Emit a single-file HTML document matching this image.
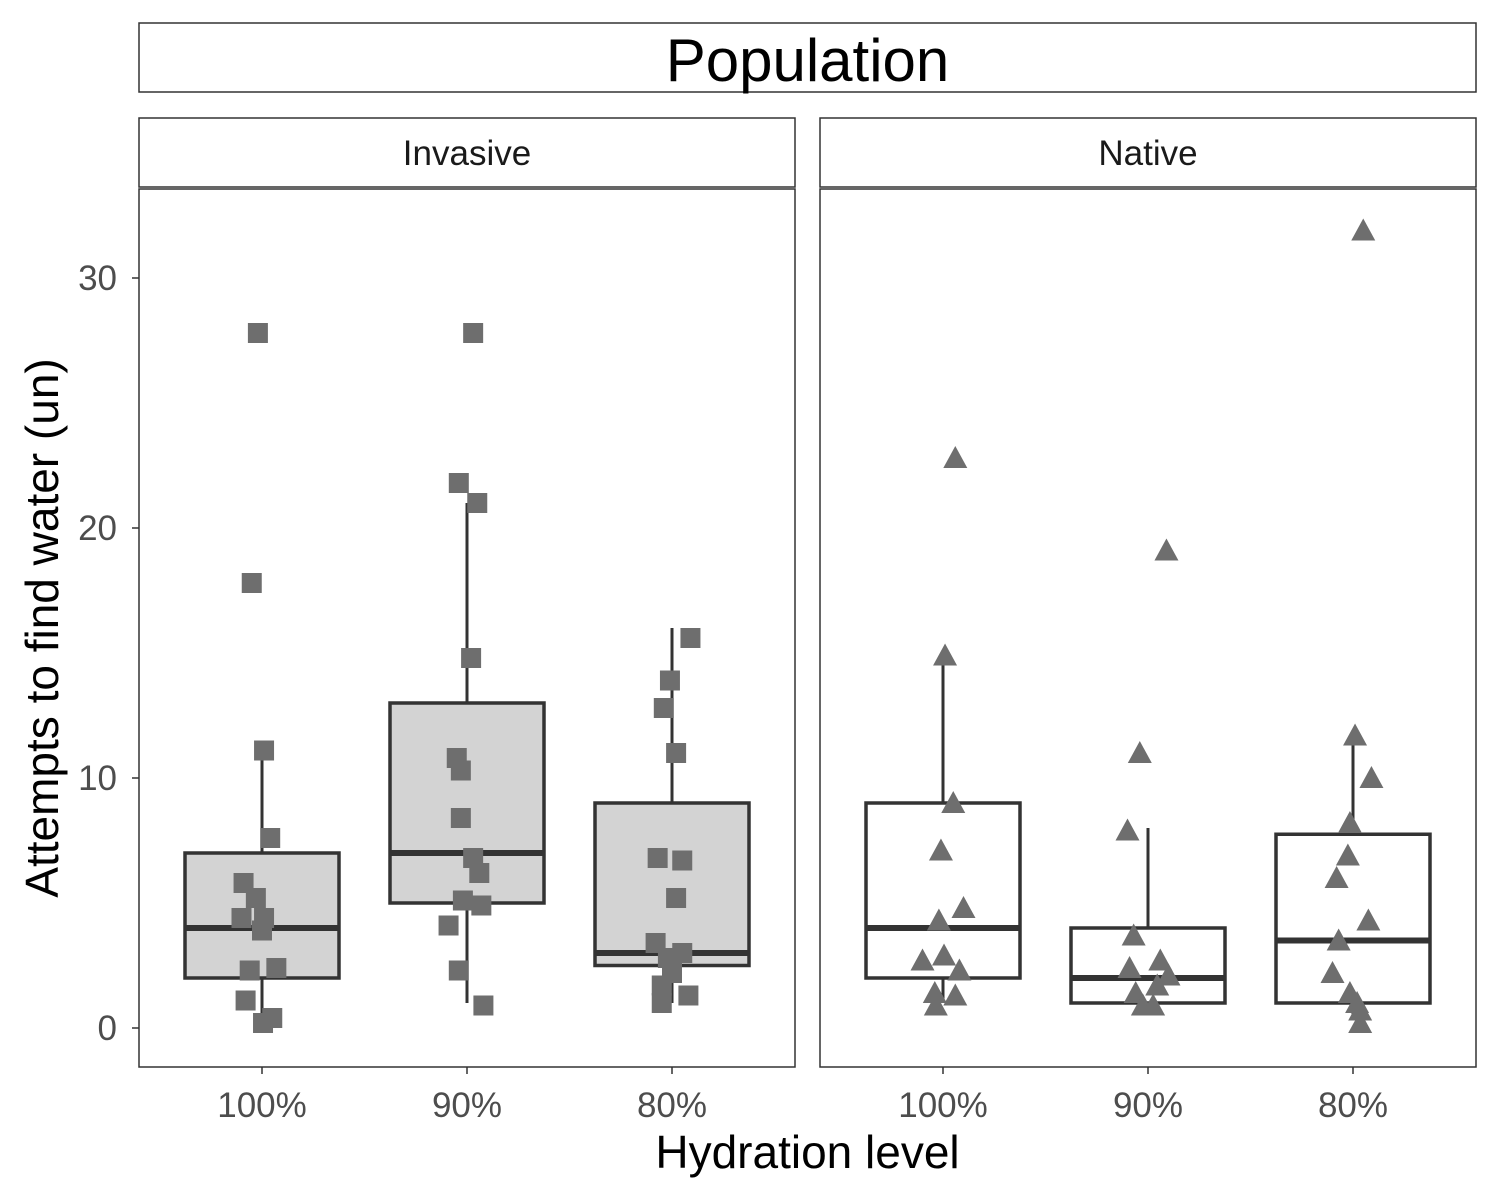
<!DOCTYPE html>
<html><head><meta charset="utf-8"><style>
body{margin:0;background:#fff}
svg{display:block;font-family:"Liberation Sans",sans-serif}
</style></head><body>
<svg id="c" width="1500" height="1200" viewBox="0 0 1500 1200"></svg>
<script>
const panels=["Invasive","Native"];
const categories=["100%","90%","80%"];
const yTicks=[0,10,20,30];
// box stats per panel: [lower, q1, median, q3, upper]
const boxInvasive=[[0.3,2,4,7,11],[1,5,7,13,21],[1,2.5,3,9,16]];
const boxNative=[[1,2,4,9,15],[1,1,2,4,8],[0.3,1,3.5,7.75,11.7]];
const ptsInv100=[27.8,17.8,11.1,7.6,5.8,5.2,4.4,4.4,3.9,2.3,2.4,1.1,0.2,0.4];
const jitInv100=[-0.02,-0.05,0.01,0.04,-0.09,-0.03,-0.1,0.01,0,-0.06,0.07,-0.08,0.005,0.05];
const ptsInv90=[27.8,21.8,21,14.8,10.8,10.3,8.4,6.8,6.2,5.1,4.9,4.1,2.3,0.9];
const jitInv90=[0.03,-0.04,0.05,0.02,-0.05,-0.03,-0.03,0.03,0.06,-0.02,0.07,-0.09,-0.04,0.08];
const ptsInv80=[15.6,13.9,12.8,11,6.8,6.7,5.2,3.4,3,2.8,2.2,1.7,1.3,1.0];
const jitInv80=[0.09,-0.01,-0.04,0.02,-0.07,0.05,0.02,-0.08,0.05,-0.02,0,-0.05,0.08,-0.05];
const ptsNat100=[22.8,14.9,9,7.1,4.8,4.3,2.9,2.7,2.3,1.4,1.3,0.9];
const jitNat100=[0.06,0.01,0.05,-0.01,0.1,-0.02,0.005,-0.1,0.08,-0.04,0.06,-0.035];
const ptsNat90=[19.1,11,7.9,3.7,2.4,2.7,2.1,1.7,1.4,0.9,0.9];
const jitNat90=[0.09,-0.04,-0.1,-0.07,-0.09,0.06,0.1,0.045,-0.06,-0.025,0.025];
const ptsNat80=[31.9,11.7,10,8.2,6.9,6,4.3,3.5,2.2,1.4,1,0.7,0.2];
const jitNat80=[0.05,0.01,0.09,-0.015,-0.025,-0.08,0.075,-0.07,-0.1,-0.015,0.02,0.035,0.035];

const NS="http://www.w3.org/2000/svg";
const svg=document.getElementById('c');
function el(t,a,p){const e=document.createElementNS(NS,t);for(const k in a)e.setAttribute(k,a[k]);(p||svg).appendChild(e);return e;}
const y=v=>1028-v*25;
const panelX=[139,820],PW=656;
const xc=(p,i,j)=>panelX[p]+123+(i+(j||0))*205;

let e=el('rect',{x:139,y:23,width:1337,height:69,fill:'#fff',stroke:'#333','stroke-width':1.5});

e=el('text',{x:807.5,y:81,'text-anchor':'middle','font-size':60,fill:'#000'});e.textContent='Population';


const boxes=[boxInvasive,boxNative];
const pts=[[ptsInv100,ptsInv90,ptsInv80],[ptsNat100,ptsNat90,ptsNat80]];
const jit=[[jitInv100,jitInv90,jitInv80],[jitNat100,jitNat90,jitNat80]];
panels.forEach((name,p)=>{
  const g=el('g',{});
  
  
  const px=panelX[p];
  let r=el('rect',{x:px,y:118,width:PW,height:69,fill:'#fff',stroke:'#333','stroke-width':1.5},g);
  
  let t=el('text',{x:px+PW/2,y:165,'text-anchor':'middle','font-size':35,fill:'#1a1a1a'},g);t.textContent=name;
  
  r=el('rect',{x:px,y:189,width:PW,height:878,fill:'#fff',stroke:'#333','stroke-width':1.5},g);
  
  categories.forEach((c,i)=>{
    const b=boxes[p][i],cx=xc(p,i);
    el('line',{x1:cx,x2:cx,y1:y(b[0]),y2:y(b[1]),stroke:'#333','stroke-width':3},g);
    el('line',{x1:cx,x2:cx,y1:y(b[3]),y2:y(b[4]),stroke:'#333','stroke-width':3},g);
    const bx=el('rect',{x:cx-77,y:y(b[3]),width:154,height:y(b[1])-y(b[3]),fill:p==0?'#d3d3d3':'#fff',stroke:'#333','stroke-width':3.5},g);
    
    const m=el('line',{x1:cx-77,x2:cx+77,y1:y(b[2]),y2:y(b[2]),stroke:'#333','stroke-width':6},g);
    
    pts[p][i].forEach((v,k)=>{
      const x=xc(p,i,jit[p][i][k]),yy=y(v);
      let s;
      if(p==0) s=el('rect',{x:x-10,y:yy-10,width:20,height:20,fill:'#6e6e6e'},g);
      else s=el('polygon',{points:`${x},${yy-12} ${x-12},${yy+10} ${x+12},${yy+10}`,fill:'#6e6e6e'},g);
      
    });
    el('line',{x1:cx,x2:cx,y1:1067,y2:1074,stroke:'#333','stroke-width':1.5},g);
    const tl=el('text',{x:cx,y:1117,'text-anchor':'middle','font-size':35,fill:'#4d4d4d'},g);tl.textContent=c;
    
  });
});
yTicks.forEach(v=>{
  el('line',{x1:132,x2:139,y1:y(v),y2:y(v),stroke:'#333','stroke-width':1.5});
  const t=el('text',{x:117,y:y(v)+12,'text-anchor':'end','font-size':35,fill:'#4d4d4d'});t.textContent=v;
  
});
e=el('text',{x:807.5,y:1168,'text-anchor':'middle','font-size':46,fill:'#000'});e.textContent='Hydration level';

e=el('text',{x:0,y:0,'text-anchor':'middle','font-size':46,fill:'#000',transform:'translate(58,628) rotate(-90)'});e.textContent='Attempts to find water (un)';

</script>
</body></html>
